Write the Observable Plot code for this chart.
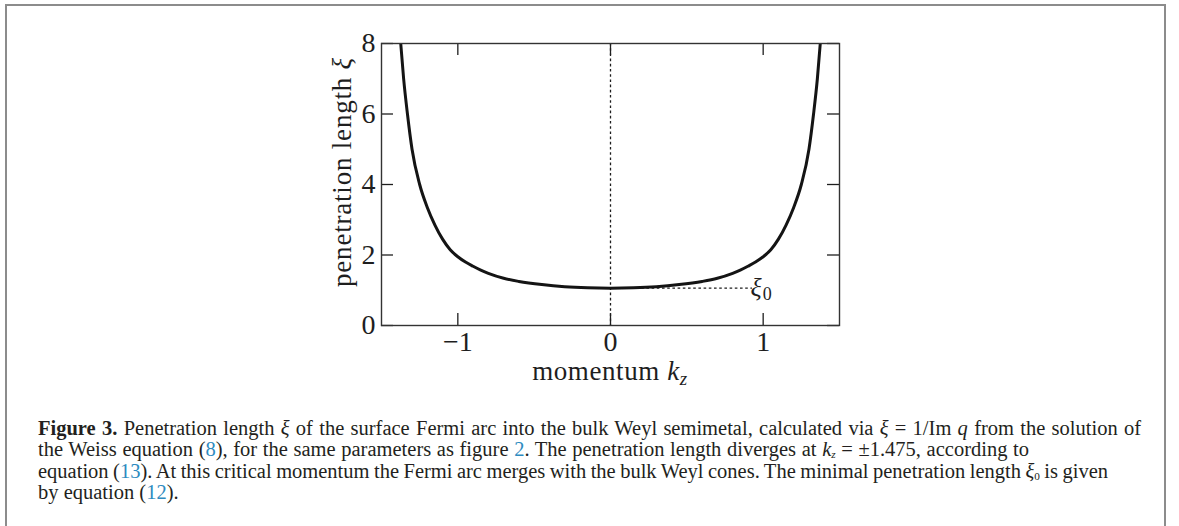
<!DOCTYPE html>
<html><head><meta charset="utf-8">
<script src="https://cdn.jsdelivr.net/npm/d3@7"></script>
<script src="https://cdn.jsdelivr.net/npm/@observablehq/plot@0.6"></script>
<style>
html,body{margin:0;padding:0;background:#fff;}
body{width:1179px;height:526px;overflow:hidden;position:relative;}
#frame{position:absolute;left:5px;top:4px;width:1157px;height:640px;border:2px solid #8c8c8c;border-bottom:none;}
#chart{position:absolute;left:0;top:0;}
#caption{position:absolute;left:38px;top:418px;font-family:"Liberation Serif",serif;font-size:20.5px;color:#231f20;}
#caption div.ln{white-space:nowrap;height:21.4px;line-height:21.4px;}
.lnk{color:#2e8bc0;}
.sb{position:relative;top:0.18em;font-size:0.55em;line-height:0;}
i{font-style:italic;}
</style></head><body>
<div id="frame"></div>
<div id="chart"></div>
<div id="caption">
<div class="ln"><span><b>Figure 3.</b> Penetration length <i>ξ</i> of the surface Fermi arc into the bulk Weyl semimetal, calculated via <i>ξ</i> = 1/Im <i>q</i> from the solution of</span></div>
<div class="ln"><span>the Weiss equation (<span class="lnk">8</span>), for the same parameters as figure <span class="lnk">2</span>. The penetration length diverges at <i>k</i><span class="sb"><i>z</i></span> = ±1.475, according to</span></div>
<div class="ln"><span>equation (<span class="lnk">13</span>). At this critical momentum the Fermi arc merges with the bulk Weyl cones. The minimal penetration length <i>ξ</i><span class="sb">0</span> is given</span></div>
<div class="ln"><span>by equation (<span class="lnk">12</span>).</span></div>
</div>
<script>
// momentum k_z and penetration length ξ
const kz = [-1.374,-1.355,-1.33,-1.3,-1.25,-1.2,-1.15,-1.1,-1.05,-1.0,-0.95,-0.9,-0.85,-0.8,-0.7,-0.6,-0.45,-0.3,-0.15,0,0.15,0.3,0.45,0.6,0.7,0.8,0.85,0.9,0.95,1.0,1.05,1.1,1.15,1.2,1.25,1.3,1.33,1.355,1.374];
const xi = [8.0,7.0,6.0,5.0,4.0,3.35,2.85,2.45,2.15,1.95,1.80,1.68,1.57,1.48,1.34,1.25,1.16,1.10,1.07,1.06,1.07,1.10,1.16,1.25,1.34,1.48,1.57,1.68,1.80,1.95,2.15,2.45,2.85,3.35,4.0,5.0,6.0,7.0,8.0];
const xTicks = [-1, 0, 1];
const yTicks = [0, 2, 4, 6, 8];
const xDomain = [-1.5, 1.5];
const yDomain = [0, 8];
const xi0 = 1.06;          // minimal penetration length
const xi0LineEnd = 0.93;   // end of dotted guide
const xi0LabelX = 0.99;    // label position

const points = kz.map((k, i) => ({k, xi: xi[i]}));
const W = 1179, H = 400, mL = 381, mR = 340, mT = 43, mB = 75;
const fw = W - mL - mR, fh = H - mT - mB, tl = 12;
const ink = "#1e1e1e";
const font = "Liberation Serif, serif";

const plot = Plot.plot({
  width: W, height: H,
  marginLeft: mL, marginRight: mR, marginTop: mT, marginBottom: mB,
  x: {domain: xDomain},
  y: {domain: yDomain},
  style: {fontFamily: font, fontSize: "24px", color: ink, background: "transparent"},
  marks: [
    Plot.ruleX([0], {stroke: ink, strokeWidth: 1.3, strokeDasharray: "2.6,2.6"}),
    Plot.ruleY([{y: xi0, x1: 0, x2: xi0LineEnd}], {y: "y", x1: "x1", x2: "x2", stroke: ink, strokeWidth: 1.3, strokeDasharray: "2.6,2.6"}),
    Plot.line(points, {x: "k", y: "xi", curve: "monotone-x", stroke: "#141414", strokeWidth: 3, clip: true}),
    Plot.ruleX(xTicks, {insetTop: fh - tl, stroke: ink, strokeWidth: 1.3}),
    Plot.ruleX(xTicks, {insetBottom: fh - tl, stroke: ink, strokeWidth: 1.3}),
    Plot.ruleY(yTicks, {insetRight: fw - tl, stroke: ink, strokeWidth: 1.3}),
    Plot.ruleY(yTicks, {insetLeft: fw - tl, stroke: ink, strokeWidth: 1.3}),
    Plot.frame({stroke: "#333", strokeWidth: 1.4}),
    Plot.axisX(xTicks, {tickSize: 0, tickPadding: 6, label: null, tickFormat: d3.format("d"), fill: ink, fontSize: 28}),
    Plot.axisY(yTicks, {tickSize: 0, tickPadding: 6, label: null, tickFormat: d3.format("d"), fill: ink, fontSize: 28})
  ]
});
document.getElementById("chart").append(plot);

const sx = plot.scale("x"), sy = plot.scale("y");
const svg = d3.select(plot);
svg.selectAll('g[aria-label="x-axis tick label"] text, g[aria-label="y-axis tick label"] text')
  .style("font-size", "28px").style("font-family", font);
// ξ0 label
const t0 = svg.append("text")
  .attr("x", sx.apply(xi0LabelX)).attr("y", sy.apply(xi0) + 8)
  .attr("font-family", font).attr("font-size", 26).attr("fill", ink);
t0.append("tspan").attr("font-style", "italic").text("ξ");
t0.append("tspan").attr("font-size", 18).attr("dy", 4).attr("dx", 1).text("0");
// x label
const tx = svg.append("text")
  .attr("x", sx.apply(0)).attr("y", H - 20).attr("text-anchor", "middle")
  .attr("font-family", font).attr("font-size", 27).attr("letter-spacing", 0.6).attr("fill", ink);
tx.append("tspan").text("momentum ");
tx.append("tspan").attr("font-style", "italic").text("k");
tx.append("tspan").attr("font-style", "italic").attr("font-size", 19).attr("dy", 5).text("z");
// y label
const ty = svg.append("text")
  .attr("transform", `translate(${mL - 30},${(mT + H - mB) / 2 - 12}) rotate(-90)`)
  .attr("text-anchor", "middle")
  .attr("font-family", font).attr("font-size", 27).attr("letter-spacing", 0.8).attr("fill", ink);
ty.append("tspan").text("penetration length ");
ty.append("tspan").attr("font-style", "italic").text("ξ");

// fit caption lines 1-3 to their widths in the figure via word spacing
const targets = [1103, 991, 1070];
document.querySelectorAll("#caption div.ln > span").forEach((s, i) => {
  if (i >= targets.length) return;
  const w = s.getBoundingClientRect().width;
  const spaces = (s.textContent.match(/ /g) || []).length;
  if (spaces) s.style.wordSpacing = Math.max(-1.5, (targets[i] - w) / spaces) + "px";
});
</script>
</body></html>
